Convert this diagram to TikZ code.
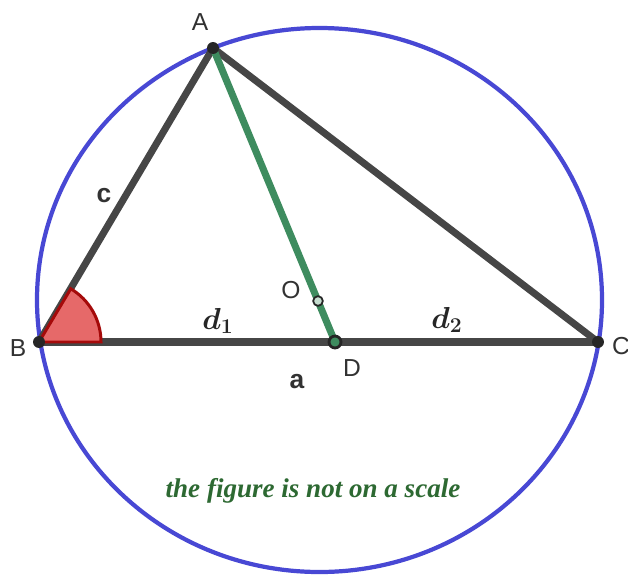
\documentclass[tikz,border=0pt]{standalone}
\usepackage{fontspec}
\usepackage{bm}
\setmainfont{Liberation Serif}
\setsansfont{Liberation Sans}
\definecolor{side}{RGB}{70,70,70}
\definecolor{ceva}{RGB}{62,140,95}
\definecolor{circ}{RGB}{72,72,212}
\definecolor{wedge}{RGB}{230,105,105}
\definecolor{wedgeb}{RGB}{165,10,10}
\definecolor{note}{RGB}{45,105,50}
\definecolor{lbl}{RGB}{50,50,50}
\begin{document}
\begin{tikzpicture}[x=0.02cm,y=-0.02cm,
  sideline/.style={draw=side,line width=4pt},
  cevaline/.style={draw=ceva,line width=4pt},
  dot/.style={circle,fill=black!85,inner sep=0pt,minimum size=6.8pt},
  hollow/.style={circle,draw=black!85,fill=ceva!30,line width=1pt,inner sep=0pt,minimum size=5.5pt},
  dpt/.style={circle,draw=black!85,fill=ceva,line width=1.6pt,inner sep=0pt,minimum size=6.8pt},
  plabel/.style={font=\sffamily\fontsize{14}{16}\selectfont,text=lbl,inner sep=0pt},
  blabel/.style={font=\sffamily\bfseries\fontsize{15}{17}\selectfont,text=lbl,inner sep=0pt},
  mlabel/.style={font=\fontsize{17}{19}\selectfont,text=black!85,inner sep=0pt}]
\useasboundingbox (0,0) rectangle (628,578);
\fill[white] (0,0) rectangle (628,578);
\coordinate (ctr) at (319.5,300);
\coordinate (Ap) at (213,48);
\coordinate (Bp) at (39,342);
\coordinate (Cp) at (598,342);
\coordinate (Dp) at (335,342);
\coordinate (Op) at (318,301);
% circumcircle
\draw[circ,line width=2.4pt] (ctr) ellipse [x radius=282.5, y radius=272];
% triangle
\draw[sideline] (Bp) -- (Cp);
\draw[sideline,line cap=round] (Bp) -- (Ap) -- (Cp);
% angle at B
\filldraw[fill=wedge,draw=wedgeb,line width=1.7pt] (Bp) -- ++(62,0) arc[start angle=0,end angle=-59.2,radius=62] -- cycle;
% cevian
\draw[cevaline] (Ap) -- (Dp);
% points
\node[dot] (A) at (Ap) {};
\node[dot] (B) at (Bp) {};
\node[dot] (C) at (Cp) {};
\node[dpt] (D) at (Dp) {};
\node[hollow] (O) at (Op) {};
% labels
\node[plabel] (la) at (200,22) {A};
\node[plabel] (lb) at (18,348) {B};
\node[plabel] (lc) at (621,346) {C};
\node[plabel] (ld) at (352,368) {D};
\node[plabel] (lo) at (291,290) {O};
\node[blabel] (sc) at (104,196) {c};
\node[blabel] (sa) at (297,382) {a};
\node[mlabel] (d1) at (218,321) {$\bm{d_1}$};
\node[mlabel] (d2) at (447,320) {$\bm{d_2}$};
\node[font=\bfseries\itshape\fontsize{15.4}{17}\selectfont,text=note] (nt) at (313,491) {the figure is not on a scale};
\end{tikzpicture}
\end{document}
